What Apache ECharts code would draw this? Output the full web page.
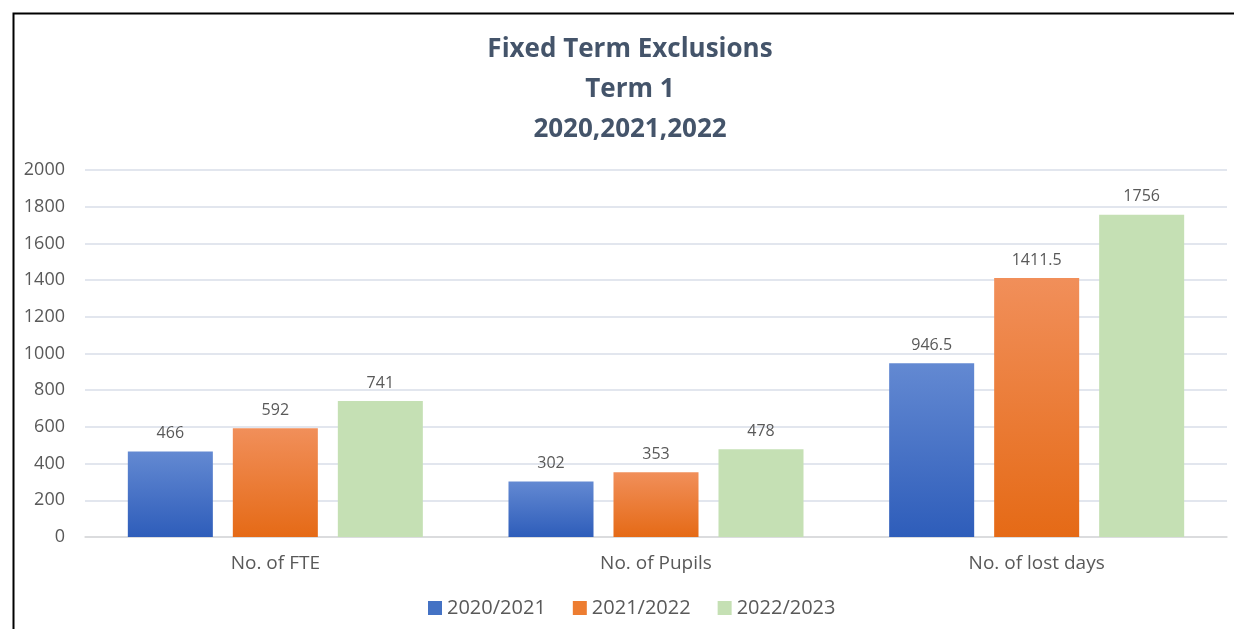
<!DOCTYPE html>
<html>
<head>
<meta charset="utf-8">
<script src="https://cdn.jsdelivr.net/npm/echarts@6/dist/echarts.min.js"></script>
<style>html,body{margin:0;padding:0;background:#fff;}#c{width:1234px;height:629px;}</style>
</head>
<body>
<div id="c"></div>
<script>
const categories = ['No. of FTE', 'No. of Pupils', 'No. of lost days'];
const seriesNames = ['2020/2021', '2021/2022', '2022/2023'];
const values2020 = [466, 302, 946.5];
const values2021 = [592, 353, 1411.5];
const values2022 = [741, 478, 1756];
const yTicks = { min: 0, max: 2000, interval: 200 };

const chart = echarts.init(document.getElementById('c'));
const FONT = '"Open Sans", "Liberation Sans", sans-serif';
function grad(top, bottom) {
  return new echarts.graphic.LinearGradient(0, 0, 0, 1, [
    { offset: 0, color: top }, { offset: 1, color: bottom }
  ]);
}
const labelStyle = { show: true, position: 'top', distance: 10, color: '#595959', fontSize: 16, fontFamily: FONT };
chart.setOption({
  animation: false,
  backgroundColor: '#fff',
  graphic: [{
    type: 'rect', left: 11, top: 11, silent: true,
    shape: { width: 1240, height: 640 },
    style: { fill: 'none', stroke: '#000', lineWidth: 2 }
  }],
  title: {
    text: 'Fixed Term Exclusions\nTerm 1\n2020,2021,2022',
    left: 625, top: 25,
    textAlign: 'center',
    textStyle: { color: '#44546A', fontSize: 26, fontWeight: 'bold', fontFamily: FONT, lineHeight: 40 }
  },
  legend: {
    bottom: 6, left: 423,
    itemWidth: 14, itemHeight: 14, itemGap: 27,
    icon: 'rect',
    textStyle: { color: '#595959', fontSize: 20, fontFamily: FONT },
    data: [
      { name: seriesNames[0], itemStyle: { color: '#4472C4' } },
      { name: seriesNames[1], itemStyle: { color: '#ED7D31' } },
      { name: seriesNames[2], itemStyle: { color: '#C5E0B4' } }
    ]
  },
  grid: { left: 85, right: 7, top: 170, bottom: 92, containLabel: false },
  xAxis: {
    type: 'category', data: categories,
    axisLine: { lineStyle: { color: '#D9D9D9', width: 1.5 } },
    axisTick: { show: false },
    axisLabel: { color: '#595959', fontSize: 19, fontFamily: FONT, margin: 17 }
  },
  yAxis: {
    type: 'value', min: yTicks.min, max: yTicks.max, interval: yTicks.interval,
    axisLine: { show: false }, axisTick: { show: false },
    axisLabel: { color: '#595959', fontSize: 18, fontFamily: FONT, margin: 20, formatter: v => String(v) },
    splitLine: { lineStyle: { color: '#D9DEE8', width: 1.5 } }
  },
  series: [
    { name: seriesNames[0], type: 'bar', data: values2020, barGap: '23.5%', barCategoryGap: '22.5%',
      itemStyle: { color: grad('#6389D2', '#2E5DBA') }, label: labelStyle },
    { name: seriesNames[1], type: 'bar', data: values2021,
      itemStyle: { color: grad('#F18F5A', '#E56A16') }, label: labelStyle },
    { name: seriesNames[2], type: 'bar', data: values2022,
      itemStyle: { color: '#C5E0B4' }, label: labelStyle }
  ]
});
</script>
</body>
</html>
